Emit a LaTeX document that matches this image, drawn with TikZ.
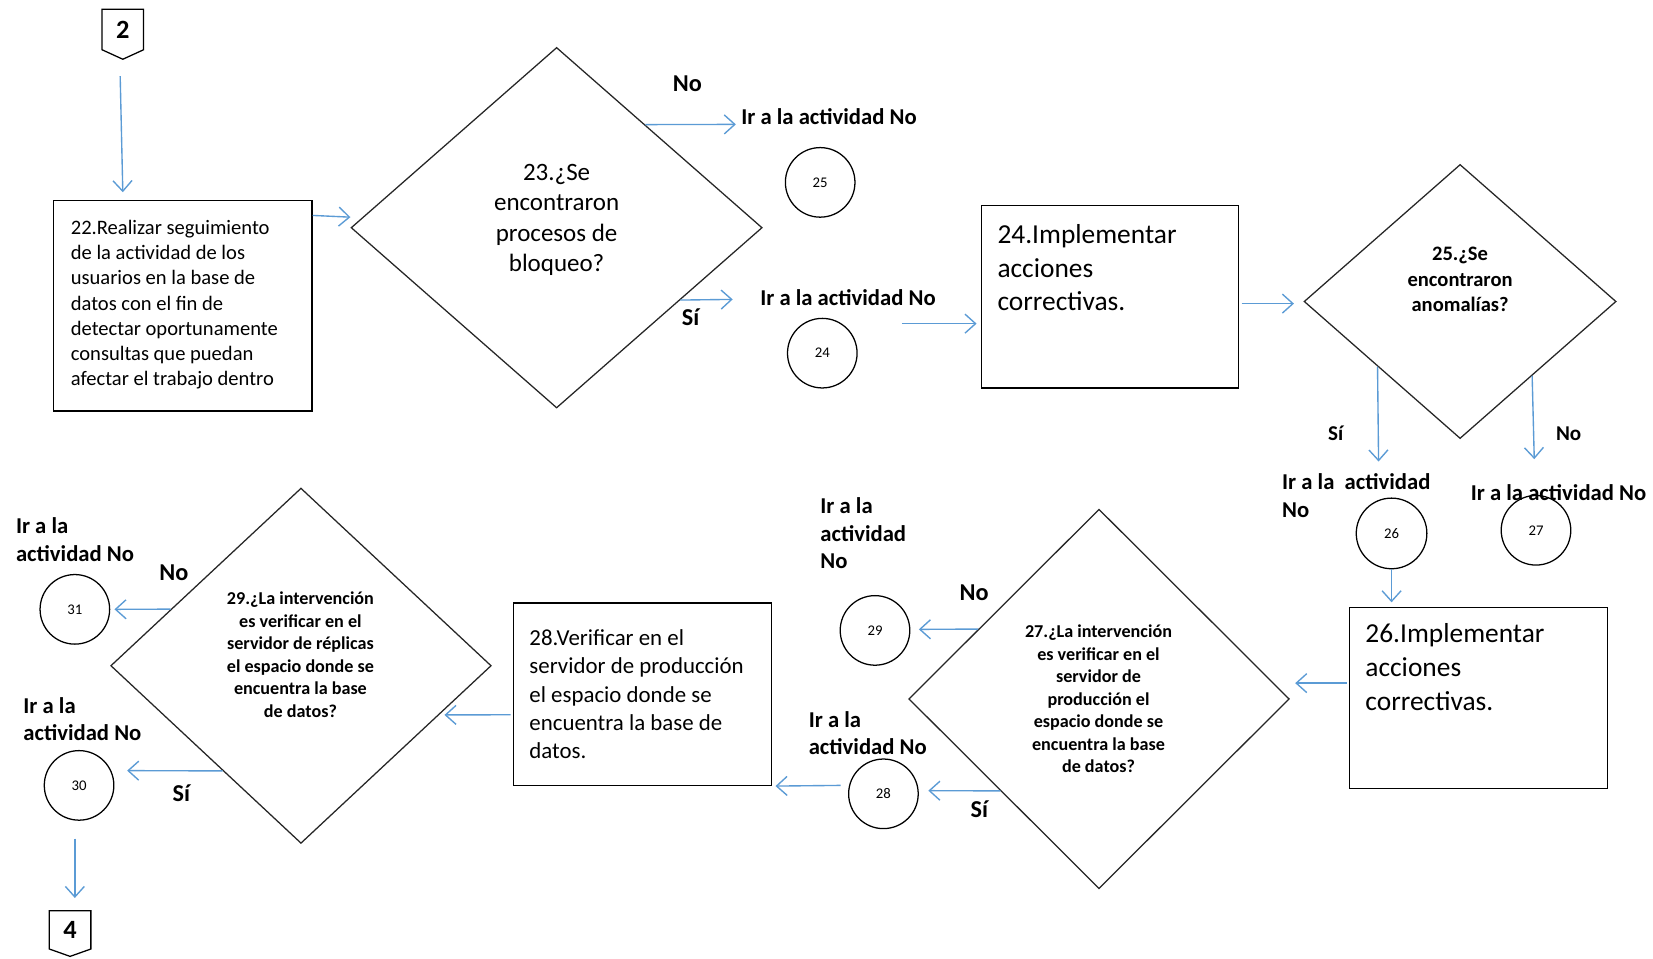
\documentclass[tikz,border=0pt]{standalone}
\usepackage{fontspec}
\setmainfont{Carlito}
\usetikzlibrary{shapes.geometric,arrows.meta,calc}
\definecolor{flowblue}{RGB}{91,155,213}
\newcommand\fsz[2]{\fontsize{#1}{#2}\selectfont}

\begin{document}
\begin{tikzpicture}[x=1pt,y=-1pt,
  box/.style={draw=black, line width=1.3pt, inner sep=0pt},
  decision/.style={diamond, draw=black!85, line width=1.2pt, inner sep=0pt, aspect=1},
  ref/.style={circle, draw=black, line width=1.2pt, inner sep=0pt, minimum size=66pt, font=\fsz{14}{16}},
  flow/.style={draw=flowblue, line width=1.3pt, -{Straight Barb[length=10pt,width=18pt,line width=1.3pt]}},
  body/.style={inner sep=0pt, align=left, anchor=west},
  query/.style={inner sep=0pt, align=center, font=\bfseries\fsz{17.2}{21.4}},
  tag/.style={inner sep=0pt, font=\bfseries\fsz{23}{26}},
  goto/.style={inner sep=0pt, align=left, anchor=west, font=\bfseries\fsz{21.5}{26}},
  offpage/.style={inner sep=0pt, minimum width=39pt, minimum height=38pt, font=\bfseries\fsz{25}{28}},
  pageborder/.style={line width=1.2pt, line join=miter},
]
\useasboundingbox (0,0) rectangle (1568,909);
\fill[white] (0,0) rectangle (1568,909);

% off-page connectors
\node[offpage] (c2) at (116.5,28) {2};
\draw[pageborder] (c2.north west) -- (c2.north east) -- (c2.south east) -- ($(c2.south)+(0,9)$) -- (c2.south west) -- cycle;
\node[offpage, minimum height=36pt] (c4) at (66.5,882) {4};
\draw[pageborder] (c4.north west) -- (c4.north east) -- (c4.south east) -- ($(c4.south)+(0,7)$) -- (c4.south west) -- cycle;

% process boxes
\node[box, minimum width=245pt, minimum height=200pt] (b22) at (173.5,290) {};
\node[box, minimum width=244pt, minimum height=173pt] (b24) at (1053,281.5) {};
\node[box, minimum width=245pt, minimum height=172pt] (b26) at (1402.5,662) {};
\node[box, minimum width=245pt, minimum height=173pt] (b28) at (609.5,658.5) {};

\node[body, font=\fsz{19.5}{24}] (t22) at (67,289) {22.Realizar seguimiento\\de la actividad de los\\usuarios en la base de\\datos con el fin de\\detectar oportunamente\\consultas que puedan\\afectar el trabajo dentro};
\node[body, font=\fsz{26}{32}] (t24) at (946,254) {24.Implementar\\acciones\\correctivas.};
\node[body, font=\fsz{26}{32}] (t26) at (1295,633) {26.Implementar\\acciones\\correctivas.};
\node[body, font=\fsz{21.7}{27}] (t28) at (502,658.5) {28.Verificar en el\\servidor de producción\\el espacio donde se\\encuentra la base de\\datos.};

% decisions
\node[decision, minimum width=390pt, minimum height=342pt] (d23) at (528,216) {};
\node[decision, minimum width=296pt, minimum height=260pt] (d25) at (1385,286) {};
\node[decision, minimum width=361pt, minimum height=360pt] (d27) at (1042.5,663) {};
\node[decision, minimum width=361pt, minimum height=337pt] (d29) at (285.5,631.5) {};

\node[inner sep=0pt, align=center, font=\fsz{23.7}{29}] (t23) at (528,208.5) {23.¿Se\\encontraron\\procesos de\\bloqueo?};
\node[query, font=\bfseries\fsz{19.5}{24.5}] (t25) at (1385,265) {25.¿Se\\encontraron\\anomalías?};
\node[query] (t27) at (1042,663) {27.¿La intervención\\es verificar en el\\servidor de\\producción el\\espacio donde se\\encuentra la base\\de datos?};
\node[query] (t29) at (285,621) {29.¿La intervención\\es verificar en el\\servidor de réplicas\\el espacio donde se\\encuentra la base\\de datos?};

% answer tags
\node[tag] (no23) at (652,79) {No};
\node[tag] (si23) at (655,301) {Sí};
\node[tag, font=\bfseries\fsz{20}{24}] (si25) at (1267,411) {Sí};
\node[tag, font=\bfseries\fsz{20}{24}] (no25) at (1488,411) {No};
\node[tag] (no27) at (924,562) {No};
\node[tag] (si27) at (929,768) {Sí};
\node[tag] (no29) at (165,543) {No};
\node[tag] (si29) at (172,752) {Sí};

% jump references
\node[goto] (g25) at (703,111) {Ir a la actividad No};
\node[goto] (g24) at (721,282) {Ir a la actividad No};
\node[goto] (g26) at (1216,470) {Ir a la\ \ actividad\\No};
\node[goto] (g27) at (1395,467) {Ir a la actividad No};
\node[goto] (g29) at (778,506) {Ir a la\\actividad\\No};
\node[goto] (g28) at (767,695.5) {Ir a la\\actividad No};
\node[goto] (g31) at (15,512) {Ir a la\\actividad No};
\node[goto] (g30) at (22,682) {Ir a la\\actividad No};

\node[ref] (r25) at (778,173) {25};
\node[ref] (r24) at (780,335) {24};
\node[ref, minimum width=67pt, minimum height=64pt] (r26) at (1320,506) {26};
\node[ref] (r27) at (1457,503) {27};
\node[ref] (r29) at (830,598) {29};
\node[ref] (r28) at (838,753) {28};
\node[ref] (r31) at (71,578) {31};
\node[ref] (r30) at (75,745) {30};

% flow connectors
\draw[flow] ($(c2.south)+(-2.5,25)$) -- ($(c2.south |- b22.north)+(0,-7)$);
\draw[flow] ($(b22.north east)+(0,15)$) -- ($(d23.west)+(0,-10)$);
\draw[flow] ($(d23.north)!0.43!(d23.east)$) -- ($(g25.west)+(-5,7)$);
\draw[flow] ($(d23.east)!0.4!(d23.south)$) -- ($(g24.west)+(-26,2)$);
\draw[flow] ($(r24.east)+(42,-28)$) -- ($(b24.west)+(-4,25.5)$);
\draw[flow] ($(b24.east)+(2,6.5)$) -- ($(d25.west)+(-9,2)$);
\coordinate (s25a) at ($(d25.west)!0.473!(d25.south)$);
\coordinate (s25b) at ($(d25.east)!0.54!(d25.south)$);
\draw[flow] (s25a) -- ($(s25a)+(1,90)$);
\draw[flow] (s25b) -- ($(s25b)+(2,79)$);
\draw[flow] (r26.south) -- ($(r26.south |- b26.north)+(0,-4)$);
\draw[flow] ($(b26.west)+(-2,-14)$) -- ($(d27.east)+(5,-15)$);
\draw[flow] ($(d27.west)!0.367!(d27.north)$) -- ($(r29.east)+(8,-1)$);
\draw[flow] ($(d27.west)!0.483!(d27.south)$) -- ($(r28.east)+(9,-3)$);
\draw[flow] ($(r28.west)+(-7,-8)$) -- ($(b28.south east)+(3,0)$);
\draw[flow] ($(b28.west)+(-2,19.5)$) -- ($(d29.east)!0.276!(d29.south)+(5,0)$);
\draw[flow] ($(d29.west)!0.3175!(d29.north)$) -- ($(r31.east)+(4,0)$);
\draw[flow] ($(d29.west)!0.59!(d29.south)$) -- ($(r30.east)+(12,-14)$);
\draw[flow] ($(r30.south)+(-4,17)$) -- ($(c4.north)+(4.5,-12)$);
\end{tikzpicture}
\end{document}
